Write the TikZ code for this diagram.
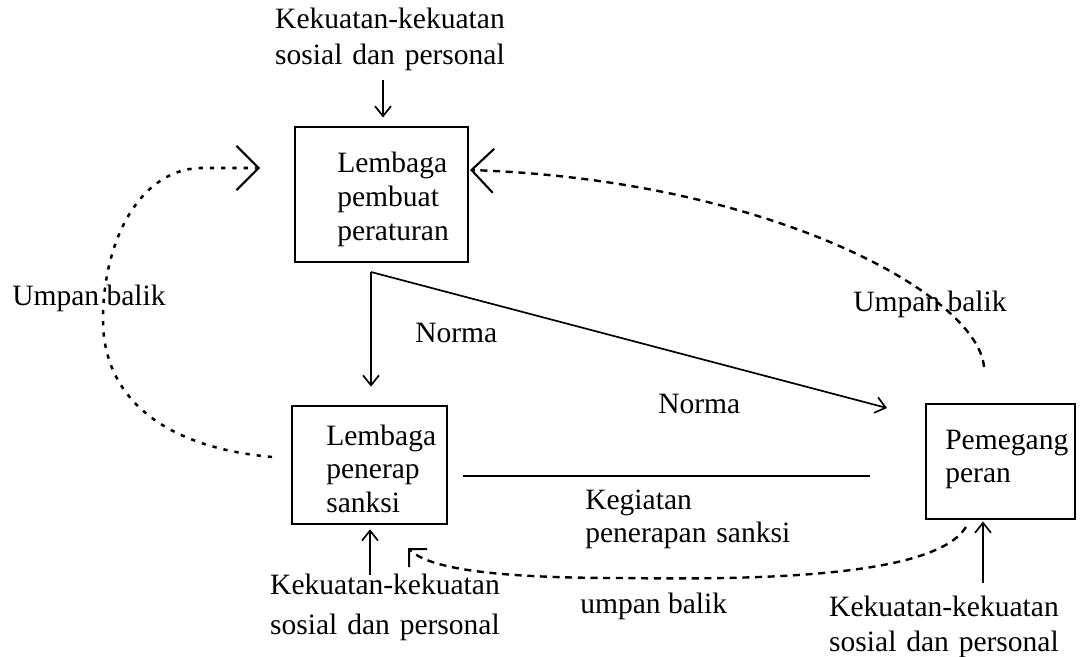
\documentclass[tikz,border=0pt]{standalone}
\usepackage{fontspec}
\setmainfont{Liberation Serif}
\usetikzlibrary{arrows.meta,fit,calc}
\begin{document}
\begin{tikzpicture}[x=0.025cm,y=-0.025cm,
  box/.style={draw,line width=1.5pt,inner sep=0pt},
  txt/.style={font=\fontsize{21}{24}\selectfont,inner sep=0pt,align=left,anchor=base west},
  ctxt/.style={font=\fontsize{21}{25}\selectfont,inner sep=0pt,align=center,anchor=base,text width=7cm},
  arr/.style={line width=1.2pt,-{Straight Barb[length=0.25cm,width=0.4cm]}},
  solid line/.style={line width=1.4pt},
  dotline/.style={line width=1.8pt,dash pattern=on 3pt off 5pt},
  dashline/.style={line width=1.7pt,dash pattern=on 5pt off 4pt},
  bigbarb/.style={-{Straight Barb[length=0.55cm,width=1.1cm,line width=1.5pt]}},
  cornerbarb/.style={-{Straight Barb[length=0.32cm,width=0.64cm,line width=1.5pt]}}]
\useasboundingbox (0,0) rectangle (1080,657);

% boxes
\node[box,fit={(295,127)(468,262)}] (rulemaker) {};
\node[box,fit={(292,406)(447,524)}] (sanctioner) {};
\node[box,fit={(926,404)(1075,519)}] (holder) {};

% box texts
\node[txt,text width=3cm] (rmtext) at (337,173) {Lembaga\\pembuat\\peraturan};
\node[txt,text width=3cm] (sntext) at (326,445) {Lembaga\\penerap\\sanksi};
\node[txt,text width=3cm] (hdtext) at (945,449) {Pemegang\\peran};

% forces
\node[ctxt] (topforce) at (390,29) {Kekuatan-kekuatan\\sosial dan personal};
\node[ctxt] (leftforce) at (385,594) {Kekuatan-kekuatan\\[3.5pt]sosial dan personal};
\node[ctxt] (rightforce) at (944,616) {Kekuatan-kekuatan\\sosial dan personal};

% labels
\node[txt] (fbleft) at (12,305) {Umpan balik};
\node[txt] (fbright) at (853,311) {Umpan balik};
\node[txt] (norma1) at (415,342) {Norma};
\node[txt] (norma2) at (658,413) {Norma};
\node[txt,text width=7cm] (kegiatan) at (585,509) {Kegiatan\\penerapan sanksi};
\node[txt] (fbbottom) at (580,613) {umpan balik};

% coordinates for free ends
\coordinate (f1) at (383,80);
\coordinate (f2) at (370,575);
\coordinate (f3) at (983,583);
\coordinate (nc) at (371,272);
\coordinate (nt) at (887,408);
\coordinate (s1) at (463,476);
\coordinate (s2) at (870,476);
\coordinate (l0) at (272,457);
\coordinate (l1) at (260,168);
\coordinate (r0) at (984,367);
\coordinate (r1) at (470,170);
\coordinate (b0) at (966,527);
\coordinate (b1) at (408,548);

% force arrows
\draw[arr,shorten >=6pt] (f1) -- (f1 |- rulemaker.north);
\draw[arr,shorten >=3pt] (f2) -- (f2 |- sanctioner.south);
\draw[arr,shorten >=1pt] (f3) -- (f3 |- holder.south);

% norma
\draw[arr,shorten >=13pt] (nc) -- (nc |- sanctioner.north);
\draw[arr] (nc) -- (nt);

% kegiatan
\draw[solid line] (s1) -- (s2);

% feedback
\draw[dotline,bigbarb] (l0) .. controls (160,447) and (103,395) .. (103,320)
  .. controls (103,240) and (140,170) .. (200,168) -- (l1);
\draw[dashline,bigbarb] (r0) .. controls (978,295) and (770,180) .. (r1);
\draw[dashline,cornerbarb] (b0) .. controls (935,577) and (760,580) .. (620,578)
  .. controls (490,578) and (428,568) .. (b1);
\end{tikzpicture}
\end{document}
